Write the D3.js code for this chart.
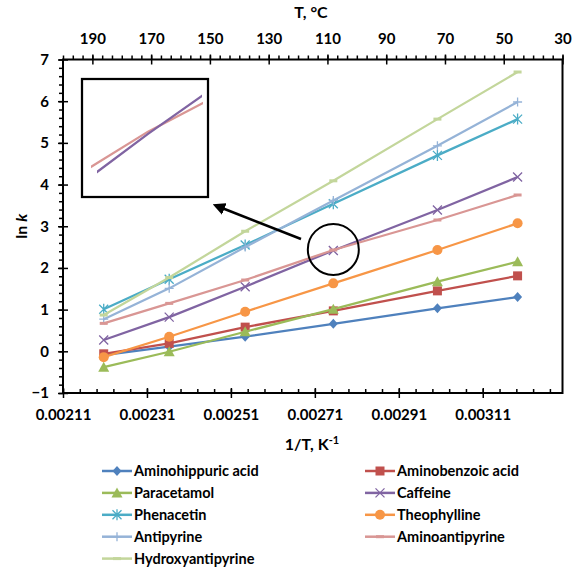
<!DOCTYPE html>
<html><head><meta charset="utf-8">
<script src="https://cdn.jsdelivr.net/npm/d3@7"></script>
<style>
html,body{margin:0;padding:0;background:#fff;}
svg{display:block;}
text{font-family:Lato,"Open Sans",sans-serif;fill:#000;}
</style></head>
<body>
<div id="chart"></div>
<script>
// ---- data ----
const invT = [0.002207, 0.002363, 0.002544, 0.002754, 0.003002, 0.003193];
const seriesNames = ["Aminohippuric acid","Aminobenzoic acid","Paracetamol","Caffeine","Phenacetin","Theophylline","Antipyrine","Aminoantipyrine","Hydroxyantipyrine"];
const aminohippuric   = [-0.09, 0.11, 0.35, 0.66, 1.03, 1.30];
const aminobenzoic    = [-0.06, 0.19, 0.58, 0.97, 1.45, 1.81];
const paracetamol     = [-0.38, -0.01, 0.47, 1.01, 1.67, 2.15];
const caffeine        = [0.27, 0.82, 1.55, 2.42, 3.39, 4.18];
const phenacetin      = [1.01, 1.73, 2.55, 3.54, 4.70, 5.57];
const theophylline    = [-0.14, 0.35, 0.95, 1.63, 2.43, 3.07];
const antipyrine      = [0.77, 1.51, 2.50, 3.62, 4.93, 5.98];
const aminoantipyrine = [0.67, 1.15, 1.71, 2.43, 3.15, 3.75];
const hydroxyantipyrine = [0.87, 1.77, 2.88, 4.09, 5.57, 6.70];
const seriesValues = [aminohippuric, aminobenzoic, paracetamol, caffeine, phenacetin, theophylline, antipyrine, aminoantipyrine, hydroxyantipyrine];
const seriesColors = ["#4F81BD","#C0504D","#9BBB59","#8064A2","#4BACC6","#F79646","#95B3D7","#D99694","#C3D69B"];
const seriesMarkers = ["diamond","square","triangle","x","asterisk","circle","plus","dash","dash"];
const xTicks = [0.00211, 0.00231, 0.00251, 0.00271, 0.00291, 0.00311];
const yTicks = [-1,0,1,2,3,4,5,6,7];
const tTicks = [190,170,150,130,110,90,70,50,30];

// ---- layout ----
const W = 573, H = 571;
const L = 63, R = 562.5, T = 59.5, B = 393;
const svg = d3.select("#chart").append("svg").attr("width", W).attr("height", H);

const x = d3.scaleLinear().domain([0.00211, 0.0033]).range([L, R]);
const y = d3.scaleLinear().domain([-1, 7]).range([B, T]);
const xT = d3.scaleLinear().domain([200, 30]).range([L, R]);

// minor ticks
const xMinor = d3.range(0, 30).map(i => 0.00211 + i * 0.00004).filter(v => v <= 0.0033 + 1e-9);
const yMinor = d3.range(0, 41).map(i => -1 + i * 0.2);
const tMinor = d3.range(0, 52).map(i => 200 - i * 20 / 6).filter(v => v >= 30 - 1e-9);

const axG = svg.append("g");
function styleAxis(g){ g.select(".domain").remove(); g.selectAll("line").attr("stroke","#000").attr("stroke-width",1.5); }
const tickFont = 15;

// bottom minor
axG.append("g").attr("transform",`translate(0,${B})`)
  .call(d3.axisBottom(x).tickValues(xMinor).tickSize(-4).tickFormat(""))
  .call(styleAxis);
// bottom major
axG.append("g").attr("transform",`translate(0,${B})`)
  .call(d3.axisBottom(x).tickValues(xTicks).tickSize(5).tickPadding(8).tickFormat(d3.format(".5f")))
  .call(styleAxis)
  .call(g => g.selectAll("line").attr("y1",-5).attr("y2",5))
  .call(g => g.selectAll("text").attr("font-size",tickFont).attr("font-weight","bold").attr("dy","0.95em"));
// left minor
axG.append("g").attr("transform",`translate(${L},0)`)
  .call(d3.axisLeft(y).tickValues(yMinor).tickSize(4).tickFormat(""))
  .call(styleAxis);
// left major
axG.append("g").attr("transform",`translate(${L},0)`)
  .call(d3.axisLeft(y).tickValues(yTicks).tickSize(5).tickPadding(9).tickFormat(d3.format("d")))
  .call(styleAxis)
  .call(g => g.selectAll("line").attr("x1",-5).attr("x2",5))
  .call(g => g.selectAll("text").attr("font-size",tickFont).attr("font-weight","bold"));
// top minor
axG.append("g").attr("transform",`translate(0,${T})`)
  .call(d3.axisTop(xT).tickValues(tMinor).tickSize(4).tickFormat(""))
  .call(styleAxis);
// top major
axG.append("g").attr("transform",`translate(0,${T})`)
  .call(d3.axisTop(xT).tickValues(tTicks).tickSize(5).tickPadding(11).tickFormat(d3.format("d")))
  .call(styleAxis)
  .call(g => g.selectAll("line").attr("y1",-5).attr("y2",5))
  .call(g => g.selectAll("text").attr("font-size",tickFont).attr("font-weight","bold"));

// frame
svg.append("rect").attr("x",L).attr("y",T).attr("width",R-L).attr("height",B-T)
  .attr("fill","none").attr("stroke","#000").attr("stroke-width",2);

// titles
svg.append("text").attr("x",311).attr("y",18).attr("text-anchor","middle")
  .attr("font-size",16).attr("font-weight","bold").text("T, °C");
const xt = svg.append("text").attr("x",312).attr("y",450).attr("text-anchor","middle")
  .attr("font-size",16).attr("font-weight","bold");
xt.append("tspan").text("1/T, K");
xt.append("tspan").attr("dy",-6).attr("font-size",11).text("-1");
const yt = svg.append("text").attr("transform",`translate(27,${(T+B)/2}) rotate(-90)`)
  .attr("text-anchor","middle").attr("font-size",16).attr("font-weight","bold");
yt.append("tspan").text("ln ");
yt.append("tspan").attr("font-style","italic").text("k");

// marker drawing
function drawMarker(g, type, color, cx, cy){
  const s = 4.5;
  if(type==="diamond"){
    g.append("path").attr("d",`M${cx},${cy-s-0.5}L${cx+s},${cy}L${cx},${cy+s+0.5}L${cx-s},${cy}Z`).attr("fill",color);
  } else if(type==="square"){
    g.append("rect").attr("x",cx-s).attr("y",cy-s).attr("width",2*s).attr("height",2*s).attr("fill",color);
  } else if(type==="triangle"){
    g.append("path").attr("d",`M${cx},${cy-s-1}L${cx+s+1},${cy+s}L${cx-s-1},${cy+s}Z`).attr("fill",color);
  } else if(type==="circle"){
    g.append("circle").attr("cx",cx).attr("cy",cy).attr("r",s+0.5).attr("fill",color);
  } else if(type==="x"){
    g.append("path").attr("d",`M${cx-s},${cy-s}L${cx+s},${cy+s}M${cx-s},${cy+s}L${cx+s},${cy-s}`).attr("stroke",color).attr("stroke-width",1.3);
  } else if(type==="asterisk"){
    g.append("path").attr("d",`M${cx-s},${cy-s}L${cx+s},${cy+s}M${cx-s},${cy+s}L${cx+s},${cy-s}M${cx},${cy-s-1}L${cx},${cy+s+1}`).attr("stroke",color).attr("stroke-width",1.3);
  } else if(type==="plus"){
    g.append("path").attr("d",`M${cx-s},${cy}L${cx+s},${cy}M${cx},${cy-s}L${cx},${cy+s}`).attr("stroke",color).attr("stroke-width",1.3);
  } else if(type==="dash"){
    g.append("path").attr("d",`M${cx-4},${cy}L${cx+4},${cy}`).attr("stroke",color).attr("stroke-width",3);
  }
}

// series
const line = d3.line().x(d => x(d[0])).y(d => y(d[1]));
const plotG = svg.append("g");
seriesValues.forEach((vals, i) => {
  const pts = invT.map((xv, j) => [xv, vals[j]]);
  const g = plotG.append("g");
  g.append("path").attr("d", line(pts)).attr("fill","none")
    .attr("stroke", seriesColors[i]).attr("stroke-width", 2.25);
  pts.forEach(p => drawMarker(g, seriesMarkers[i], seriesColors[i], x(p[0]), y(p[1])));
});

// inset (zoom of caffeine / aminoantipyrine crossing)
const insetBox = {x0:82, y0:79, x1:208, y1:197};
const ix = d3.scaleLinear().domain([0.0027016, 0.0028016]).range([insetBox.x0, insetBox.x1]);
const iy = d3.scaleLinear().domain([2.142, 2.662]).range([insetBox.y1, insetBox.y0]);
const insetDefs = svg.append("defs");
insetDefs.append("clipPath").attr("id","clipPink").append("rect")
  .attr("x",91).attr("y",insetBox.y0).attr("width",112).attr("height",insetBox.y1-insetBox.y0);
insetDefs.append("clipPath").attr("id","clipPurple").append("rect")
  .attr("x",97).attr("y",insetBox.y0).attr("width",105).attr("height",insetBox.y1-insetBox.y0);
const iline = d3.line().x(d => ix(d[0])).y(d => iy(d[1]));
[[7,"clipPink"],[3,"clipPurple"]].forEach(([i, clip]) => {
  const pts = invT.map((xv, j) => [xv, seriesValues[i][j]]);
  svg.append("path").attr("clip-path",`url(#${clip})`).attr("d", iline(pts)).attr("fill","none")
    .attr("stroke", seriesColors[i]).attr("stroke-width", 2.25);
});
svg.append("rect").attr("x",insetBox.x0).attr("y",insetBox.y0)
  .attr("width",insetBox.x1-insetBox.x0).attr("height",insetBox.y1-insetBox.y0)
  .attr("fill","none").attr("stroke","#000").attr("stroke-width",2.25);

// circle highlight + arrow
const cxC = x(invT[3]), cyC = y(caffeine[3]);
svg.append("circle").attr("cx",cxC).attr("cy",cyC-1).attr("r",25.5)
  .attr("fill","none").attr("stroke","#000").attr("stroke-width",2);
insetDefs.append("marker").attr("id","arrowHead").attr("viewBox","0 0 10 10")
  .attr("refX",2).attr("refY",5).attr("markerWidth",5).attr("markerHeight",5)
  .attr("orient","auto").attr("markerUnits","strokeWidth")
  .append("path").attr("d","M0,0L10,5L0,10Z").attr("fill","#000");
svg.append("line").attr("x1",301).attr("y1",239).attr("x2",222).attr("y2",208)
  .attr("stroke","#000").attr("stroke-width",2.5).attr("marker-end","url(#arrowHead)");

// legend
const legG = svg.append("g");
const colX = [102, 365], rowY0 = 471, rowDy = 21.9;
seriesNames.forEach((name, i) => {
  const col = i % 2, row = Math.floor(i / 2);
  const lx = colX[col], ly = rowY0 + row * rowDy;
  const g = legG.append("g");
  g.append("line").attr("x1",lx).attr("x2",lx+30).attr("y1",ly).attr("y2",ly)
    .attr("stroke",seriesColors[i]).attr("stroke-width",2.5);
  drawMarker(g, seriesMarkers[i], seriesColors[i], lx+15, ly);
  g.append("text").attr("x",lx+32).attr("y",ly+5).attr("font-size",14.5)
    .attr("font-weight","bold").text(name);
});
</script>
</body></html>
